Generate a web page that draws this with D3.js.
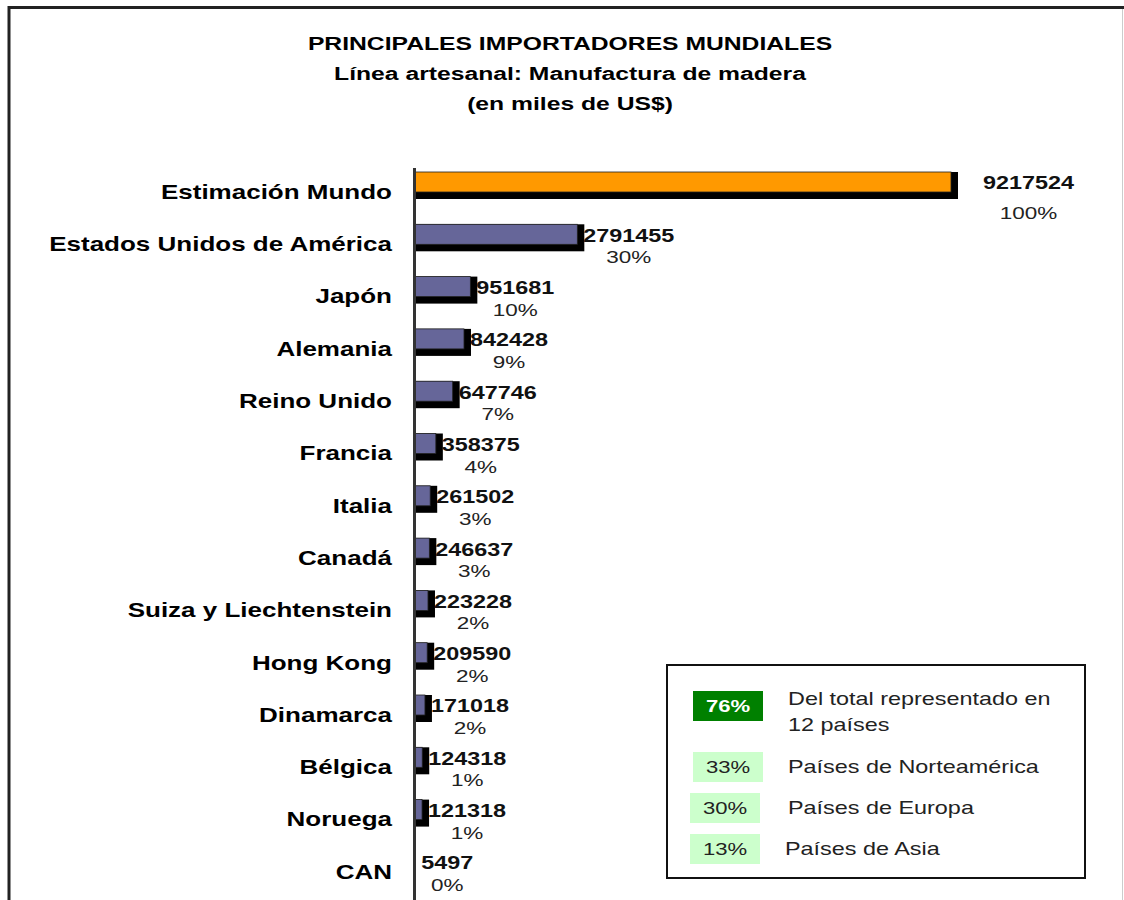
<!DOCTYPE html>
<html><head><meta charset="utf-8">
<script src="https://cdn.jsdelivr.net/npm/d3@7"></script>
<style>html,body{margin:0;padding:0;background:#fff;}svg{display:block;}</style>
</head><body>
<svg id="chart" width="1124" height="900"></svg>
<script>
const categories = ["Estimación Mundo","Estados Unidos de América","Japón","Alemania","Reino Unido","Francia","Italia","Canadá","Suiza y Liechtenstein","Hong Kong","Dinamarca","Bélgica","Noruega","CAN"];
const values = [9217524,2791455,951681,842428,647746,358375,261502,246637,223228,209590,171018,124318,121318,5497];
const shares = ["100%","30%","10%","9%","7%","4%","3%","3%","2%","2%","2%","1%","1%","0%"];
const titleLines = ["PRINCIPALES IMPORTADORES MUNDIALES","Línea artesanal: Manufactura de madera","(en miles de US$)"];
const legendPct = ["76%","33%","30%","13%"];
const legendText = [["Del total representado en","12 países"],["Países de Norteamérica"],["Países de Europa"],["Países de Asia"]];

const SX = 1.3;
const FONT = "'Liberation Sans', Arial, sans-serif";
const svg = d3.select("#chart");

function txt(g, s, x, y, opt) {
  return g.append("text")
    .attr("transform", `translate(${x},${y}) scale(${SX},1)`)
    .attr("text-anchor", opt.anchor || "start")
    .attr("dominant-baseline", "central")
    .attr("font-family", FONT)
    .attr("font-size", opt.size)
    .attr("font-weight", opt.bold ? "bold" : "normal")
    .attr("fill", opt.fill || "#000")
    .text(s);
}

// frame
svg.append("line").attr("x1", 8).attr("x2", 1124).attr("y1", 7.5).attr("y2", 7.5).attr("stroke", "#222").attr("stroke-width", 3);
svg.append("line").attr("x1", 9).attr("x2", 9).attr("y1", 6).attr("y2", 900).attr("stroke", "#222").attr("stroke-width", 3);
svg.append("line").attr("x1", 1122.5).attr("x2", 1122.5).attr("y1", 9).attr("y2", 900).attr("stroke", "#ccc").attr("stroke-width", 1);

// titles
const tg = svg.append("g");
titleLines.forEach((t, i) => txt(tg, t, 570, 44 + i * 30, {anchor: "middle", size: 19, bold: true}));

// scales
const x0 = 415;
const x = d3.scaleLinear().domain([0, values[0]]).range([x0, 951]);
const y = d3.scalePoint().domain(categories).range([182, 182 + 13 * 52.3]);
const barH = 20, sh = 7;

const bars = svg.append("g");
categories.forEach((c, i) => {
  const v = values[i], cy = y(c), xe = x(v);
  if (xe - x0 < 1) return;
  bars.append("rect").attr("x", x0).attr("y", cy - barH / 2).attr("width", xe - x0 + sh).attr("height", barH + sh).attr("fill", "#000");
  bars.append("rect").attr("x", x0).attr("y", cy - barH / 2).attr("width", xe - x0).attr("height", barH)
    .attr("fill", i === 0 ? "#ff9900" : "#666699").attr("stroke", "#222").attr("stroke-width", 0.8);
});

// axis line
svg.append("line").attr("x1", 414.5).attr("x2", 414.5).attr("y1", 168).attr("y2", 900).attr("stroke", "#333").attr("stroke-width", 3);

// category labels
const lg = svg.append("g");
categories.forEach((c, i) => txt(lg, c, 392, y(c) + 10, {anchor: "end", size: 20, bold: true}));

// value labels
const vg = svg.append("g");
categories.forEach((c, i) => {
  const xs = i === 0 ? x(values[i]) + 32 : x(values[i]) + sh - 1;
  const t = txt(vg, d3.format("d")(values[i]), xs, y(c) + 1, {size: 18, bold: true, fill: "#111"});
  const w = t.node().getComputedTextLength() * SX;
  txt(vg, shares[i], xs + w / 2, y(c) + (i === 0 ? 31 : 23), {anchor: "middle", size: 17.3, fill: "#222"});
});

// legend
const leg = svg.append("g");
leg.append("rect").attr("x", 667).attr("y", 665).attr("width", 418).attr("height", 213).attr("fill", "#fff").attr("stroke", "#111").attr("stroke-width", 2);
const boxes = [[693, 691], [693, 752], [690, 793], [690, 834]];
const textX = [788, 788, 788, 785];
legendPct.forEach((p, i) => {
  const [bx, by] = boxes[i];
  leg.append("rect").attr("x", bx).attr("y", by).attr("width", 70).attr("height", 30).attr("fill", i === 0 ? "#008000" : "#ccffcc");
  txt(leg, p, bx + 35, by + 15, {anchor: "middle", size: 17, bold: i === 0, fill: i === 0 ? "#fff" : "#222"});
  const lines = legendText[i];
  lines.forEach((t, j) => txt(leg, t, textX[i], (lines.length > 1 ? by + 8 : by + 15) + j * 26, {size: 18, fill: "#222"}));
});
</script>
</body></html>
